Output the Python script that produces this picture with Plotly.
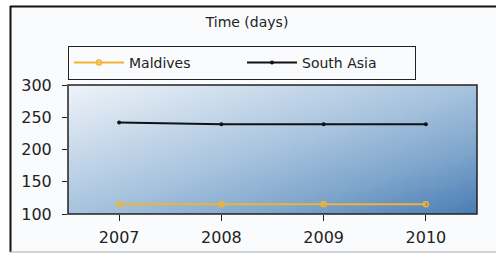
import numpy as np
import plotly.graph_objects as go

years = [2007, 2008, 2009, 2010]
maldives = [115, 115, 115, 115]
south_asia = [242, 239, 239, 239]
y_ticks = [100, 150, 200, 250, 300]
title_text = "Time (days)"

W, H = 496, 254
L, R, T, B = 68, 477, 85, 214

# background gradient (styling only)
gx = np.linspace(2006.5, 2010.5, 80)
gy = np.linspace(100, 300, 40)
xn = (gx - 2006.5) / 4.0
yn = (300 - gy) / 200.0
Z = 0.5 * xn[None, :] + 0.5 * yn[:, None]

fig = go.Figure()
fig.add_trace(go.Heatmap(
    x=gx, y=gy, z=Z, showscale=False, hoverinfo="skip", zmin=0, zmax=1,
    colorscale=[[0, "#eef3f9"], [0.5, "#a7c3de"], [0.75, "#7ea5cc"], [1, "#4a7db5"]],
    showlegend=False,
))
fig.add_trace(go.Scatter(
    x=years, y=maldives, name="Maldives", mode="lines+markers",
    line=dict(color="#f0b432", width=2),
    marker=dict(symbol="circle-open", size=5, color="#f0b432", line=dict(width=1.5)),
))
fig.add_trace(go.Scatter(
    x=years, y=south_asia, name="South Asia", mode="lines+markers",
    line=dict(color="#111111", width=2),
    marker=dict(symbol="circle", size=4, color="#111111"),
))

def px_x(p):
    return (p - L) / (R - L)

def px_y(p):
    return (B - p) / (B - T)

shapes = [
    dict(type="rect", xref="paper", yref="paper", x0=px_x(10), x1=px_x(500),
         y0=px_y(252), y1=px_y(6), fillcolor="#fafbfd", line=dict(width=0), layer="below"),
    dict(type="line", xref="paper", yref="paper", x0=px_x(10), x1=px_x(500),
         y0=px_y(6.5), y1=px_y(6.5), line=dict(color="#111111", width=2)),
    dict(type="line", xref="paper", yref="paper", x0=px_x(10.5), x1=px_x(10.5),
         y0=px_y(6), y1=px_y(252), line=dict(color="#111111", width=2)),
    dict(type="line", xref="paper", yref="paper", x0=px_x(10), x1=px_x(500),
         y0=px_y(252), y1=px_y(252), line=dict(color="#aaaaaa", width=1)),
    dict(type="rect", xref="paper", yref="paper", x0=0, x1=1, y0=0, y1=1,
         line=dict(color="#222222", width=1.5)),
]

fig.update_layout(
    width=W, height=H,
    margin=dict(l=L, r=W - R, t=T, b=H - B, autoexpand=False),
    paper_bgcolor="white",
    plot_bgcolor="#a7c3de",
    font=dict(family="DejaVu Sans", size=15, color="#222222"),
    title=dict(text=title_text, x=247 / W, xref="container", xanchor="center",
               y=1 - 22 / H, yref="container", yanchor="middle", automargin=False,
               font=dict(size=14, color="#222222")),
    showlegend=True,
    legend=dict(orientation="h", xref="container", yref="container",
                x=68 / W, y=1 - 46 / H, xanchor="left", yanchor="top",
                bordercolor="#222222", borderwidth=1, bgcolor="#fafbfd",
                font=dict(size=14), entrywidth=108, entrywidthmode="pixels",
                itemwidth=50, tracegroupgap=0),
    shapes=shapes,
    xaxis=dict(range=[2006.5, 2010.5], tickmode="array", tickvals=years,
               ticktext=[str(y) for y in years], showgrid=False, zeroline=False,
               ticks="outside", ticklen=6, tickcolor="#222222", showline=False,
               tickfont=dict(size=16), automargin=False, ticklabelstandoff=3),
    yaxis=dict(range=[100, 300], tickmode="array", tickvals=y_ticks, showgrid=False,
               zeroline=False, ticks="outside", ticklen=5, tickcolor="#222222",
               showline=False, tickfont=dict(size=16), automargin=False,
               ticklabelstandoff=7),
)

fig.write_html("out.html", config={"displayModeBar": False},
               post_script="document.body.style.margin='0';document.body.style.overflow='hidden';")
